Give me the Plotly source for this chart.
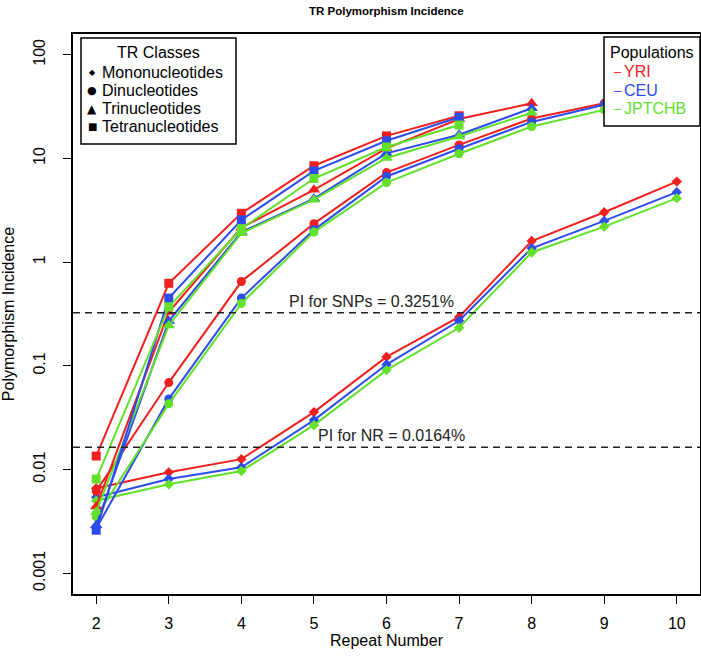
import math
import plotly.graph_objects as go

# ---------------- data ----------------
repeat_mono = [2, 3, 4, 5, 6, 7, 8, 9, 10]
mono_yri = [0.0066, 0.0094, 0.0126, 0.0358, 0.122, 0.296, 1.60, 3.03, 5.98]
mono_ceu = [0.0054, 0.0081, 0.0105, 0.030, 0.103, 0.272, 1.36, 2.50, 4.73]
mono_jpt = [0.0050, 0.0072, 0.0097, 0.0268, 0.091, 0.233, 1.24, 2.20, 4.14]

repeat_di = [2, 3, 4, 5, 6, 7, 8, 9]
di_yri = [0.0062, 0.069, 0.65, 2.35, 7.3, 13.5, 24.3, 34]
di_ceu = [0.0027, 0.048, 0.45, 2.05, 6.7, 12.4, 22.5, 33]
di_jpt = [0.0035, 0.043, 0.40, 1.95, 5.85, 11.1, 20.3, 29.4]

repeat_tri = [2, 3, 4, 5, 6, 7, 8]
tri_yri = [0.0044, 0.33, 2.15, 4.98, 12.5, 24, 34]
tri_ceu = [0.0029, 0.27, 1.95, 4.1, 11.2, 16.9, 30.5]
tri_jpt = [0.0039, 0.245, 1.9, 4.0, 10.1, 16.3, 27.6]

repeat_tetra = [2, 3, 4, 5, 6, 7]
tetra_yri = [0.0135, 0.625, 2.96, 8.5, 16.5, 25.8]
tetra_ceu = [0.0026, 0.45, 2.55, 7.6, 14.8, 25]
tetra_jpt = [0.0081, 0.37, 2.1, 6.4, 12.9, 21]

snp_pi = 0.3251
nr_pi = 0.0164

class_names = ["Mononucleotides", "Dinucleotides", "Trinucleotides", "Tetranucleotides"]
populations = ["YRI", "CEU", "JPTCHB"]
y_tickvals = [0.001, 0.01, 0.1, 1, 10, 100]
y_ticktext = ["0.001", "0.01", "0.1", "1", "10", "100"]
x_tickvals = [2, 3, 4, 5, 6, 7, 8, 9, 10]

# ---------------- style ----------------
RED = "#F0201E"
BLUE = "#2E4CEB"
GREEN = "#62E02A"
pop_colors = [RED, BLUE, GREEN]
symbols = ["diamond", "circle", "triangle-up", "square"]
msizes = [8, 9, 11, 9]
FONT = "Liberation Sans, Arial, Helvetica, sans-serif"
FS = 16

W, H = 701, 659
ML, MR, MT, MB = 73, 1, 34, 65
PW = W - ML - MR
PH = H - MT - MB


def px(xp):
    return (xp - ML) / PW


def py(yp):
    return (H - MB - yp) / PH


fig = go.Figure()

classes = [
    (repeat_mono, [mono_yri, mono_ceu, mono_jpt]),
    (repeat_di, [di_yri, di_ceu, di_jpt]),
    (repeat_tri, [tri_yri, tri_ceu, tri_jpt]),
    (repeat_tetra, [tetra_yri, tetra_ceu, tetra_jpt]),
]

for ci, (xs, series) in enumerate(classes):
    for pi, ys in enumerate(series):
        fig.add_trace(go.Scatter(
            x=xs, y=ys, mode="lines+markers",
            line=dict(color=pop_colors[pi], width=2),
            marker=dict(symbol=symbols[ci], size=msizes[ci], color=pop_colors[pi],
                        line=dict(width=0)),
            name=f"{class_names[ci]} {populations[pi]}",
            showlegend=False,
        ))

shapes = []
for v in (snp_pi, nr_pi):
    shapes.append(dict(type="line", xref="paper", x0=0, x1=1, yref="y",
                       y0=v, y1=v,
                       line=dict(color="#222", width=1.5, dash="7px,5px")))

# legend boxes
shapes.append(dict(type="rect", xref="paper", yref="paper",
                   x0=px(81), x1=px(236), y0=py(144), y1=py(38),
                   line=dict(color="black", width=1.5), fillcolor="white", layer="above"))
shapes.append(dict(type="rect", xref="paper", yref="paper",
                   x0=px(604), x1=px(700), y0=py(126), y1=py(37),
                   line=dict(color="black", width=1.5), fillcolor="white", layer="above"))

annotations = []
annotations.append(dict(x=5.8, y=math.log10(snp_pi), xref="x", yref="y",
                        text=f"PI for SNPs = {snp_pi}%", showarrow=False,
                        yanchor="bottom", yshift=1,
                        font=dict(size=FS, color="#222", family=FONT)))
annotations.append(dict(x=6.07, y=math.log10(nr_pi), xref="x", yref="y",
                        text=f"PI for NR = {nr_pi}%", showarrow=False,
                        yanchor="bottom", yshift=1,
                        font=dict(size=FS, color="#222", family=FONT)))

# chart title
annotations.append(dict(x=px(386), y=py(11), xref="paper", yref="paper",
                        text="<b>TR Polymorphism Incidence</b>", showarrow=False,
                        xanchor="center", yanchor="middle",
                        font=dict(size=11.5, color="black", family=FONT)))

# TR classes legend
annotations.append(dict(x=px(158), y=py(53), xref="paper", yref="paper",
                        text="TR Classes", showarrow=False, xanchor="center", yanchor="middle",
                        font=dict(size=FS, color="black", family=FONT)))
leg_sym = ["◆", "●", "▲", "■"]
leg_sym_size = [8, 11, 12, 10]
leg_y = [73, 91, 109, 127]
for i, nm in enumerate(class_names):
    annotations.append(dict(x=px(92), y=py(leg_y[i]), xref="paper", yref="paper",
                            text=leg_sym[i], showarrow=False, xanchor="center", yanchor="middle",
                            font=dict(size=leg_sym_size[i], color="black", family="DejaVu Sans")))
    annotations.append(dict(x=px(100), y=py(leg_y[i]), xref="paper", yref="paper",
                            text=nm, showarrow=False, xanchor="left", yanchor="middle",
                            font=dict(size=FS, color="black", family=FONT)))

# Populations legend
annotations.append(dict(x=px(652), y=py(53), xref="paper", yref="paper",
                        text="Populations", showarrow=False, xanchor="center", yanchor="middle",
                        font=dict(size=FS, color="black", family=FONT)))
pop_y = [72, 91, 109]
for i, nm in enumerate(populations):
    annotations.append(dict(x=px(612), y=py(pop_y[i]), xref="paper", yref="paper",
                            text="–", showarrow=False, xanchor="left", yanchor="middle",
                            font=dict(size=13, color=pop_colors[i], family=FONT)))
    annotations.append(dict(x=px(622), y=py(pop_y[i]), xref="paper", yref="paper",
                            text=nm, showarrow=False, xanchor="left", yanchor="middle",
                            font=dict(size=FS, color=pop_colors[i], family=FONT)))

fig.update_layout(
    width=W, height=H,
    margin=dict(l=ML, r=MR, t=MT, b=MB, autoexpand=False),
    paper_bgcolor="white", plot_bgcolor="white",
    font=dict(family=FONT, size=FS, color="black"),
    shapes=shapes, annotations=annotations,
    showlegend=False,
)

fig.update_xaxes(
    range=[1.68, 10.32], tickvals=x_tickvals, ticktext=[str(v) for v in x_tickvals],
    showgrid=False, zeroline=False, showline=True, linecolor="black", linewidth=1.5,
    mirror=True, ticks="outside", ticklen=8, tickwidth=1.2, tickcolor="black",
    ticklabelstandoff=6, automargin=False,
    title=dict(text="Repeat Number", standoff=4, font=dict(size=FS)),
)
fig.update_yaxes(
    type="log", range=[-3.2, 2.2], tickvals=y_tickvals, ticktext=y_ticktext,
    tickangle=-90,
    showgrid=False, zeroline=False, showline=True, linecolor="black", linewidth=1.5,
    mirror=True, ticks="outside", ticklen=8, tickwidth=1.2, tickcolor="black",
    ticklabelstandoff=12, automargin=False,
    title=dict(text="Polymorphism Incidence", standoff=12, font=dict(size=FS)),
)

fig.write_html("out.html",
               config={"displayModeBar": False},
               post_script="document.body.style.margin='0';document.body.style.overflow='hidden';")
